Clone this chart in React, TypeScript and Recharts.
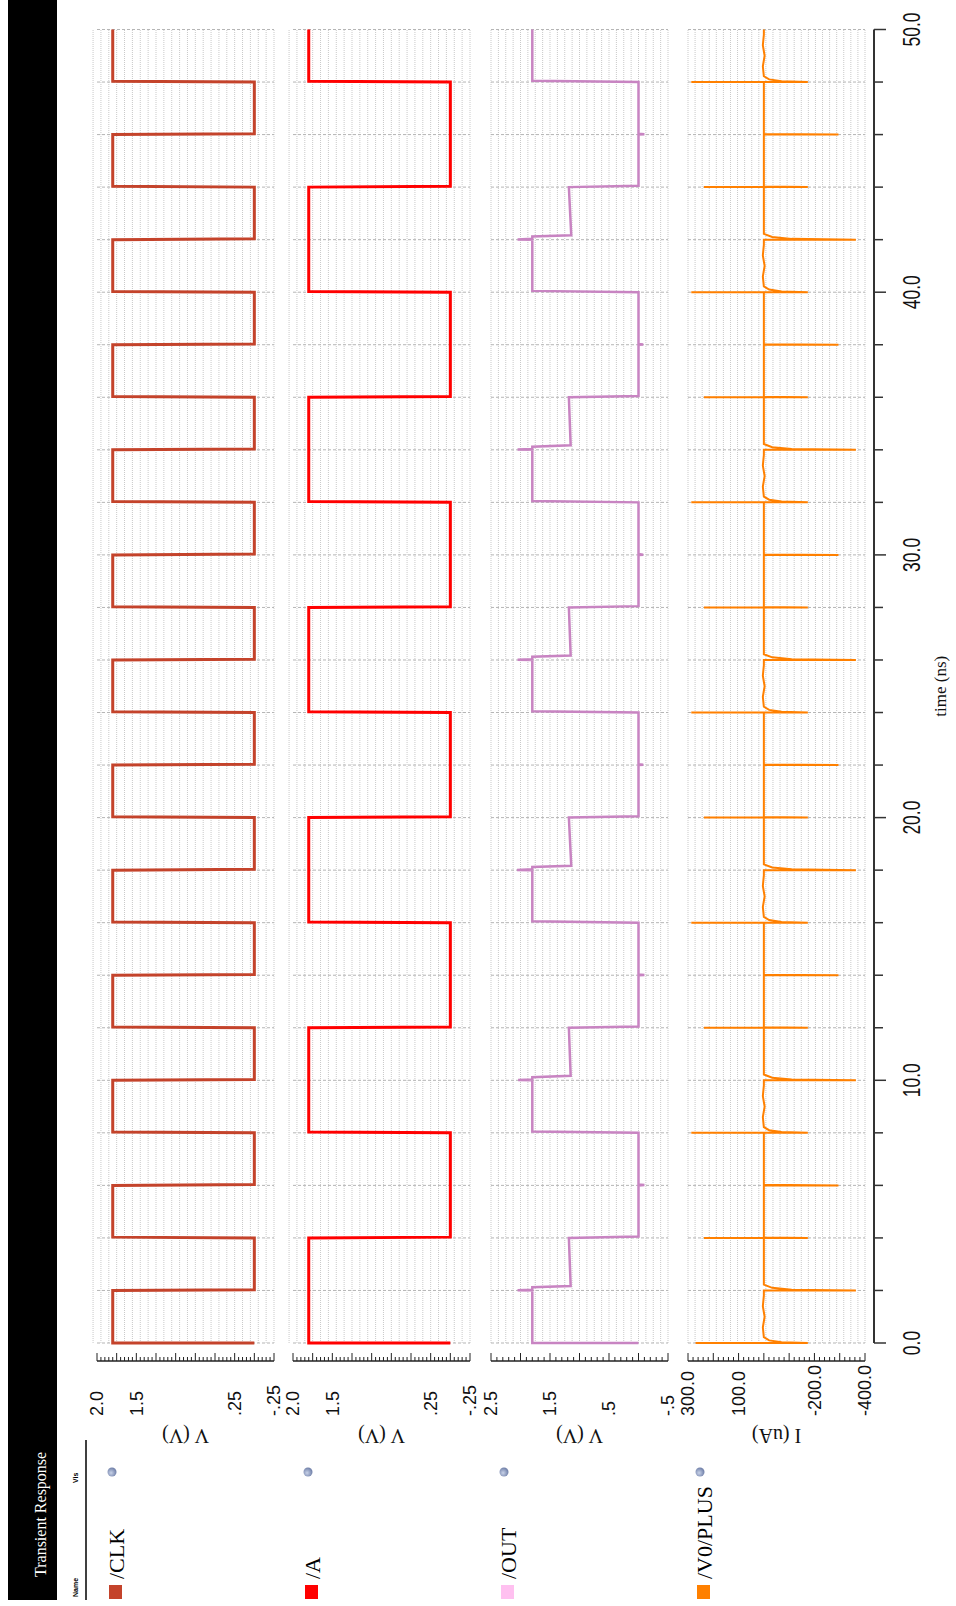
import React from 'react';
import { LineChart, Line, XAxis, YAxis, CartesianGrid } from 'recharts';

// the viewer is laid out landscape (W x H) and turned -90deg onto the portrait page
const W = 1606;
const H = 956;
const PLOT_LEFT = 263;
const PLOT_RIGHT = 1576.5;
const PLOT_H = 177;
const Y_AXIS_W = 100;
const PAD = 15;
const RULER_GAP = 18;
const X_AXIS_H = 85;

const SERIF = "'Liberation Serif', 'Times New Roman', serif";
const NARROW = "'Liberation Sans Narrow', 'Liberation Sans', Arial, sans-serif";

const range = (a: number, b: number, s: number) => {
  const n = Math.round((b - a) / s);
  return Array.from({ length: n + 1 }, (_, i) => +(a + i * s).toFixed(4));
};

// time axis (ns)
const timeTicks = [0, 2, 4, 6, 8, 10, 12, 14, 16, 18, 20, 22, 24, 26, 28, 30, 32, 34, 36, 38, 40, 42, 44, 46, 48, 50];
const timeLabels = [0, 10, 20, 30, 40, 50];

// /CLK : level held between consecutive edges
const clkEdges = [0, 2, 4, 6, 8, 10, 12, 14, 16, 18, 20, 22, 24, 26, 28, 30, 32, 34, 36, 38, 40, 42, 44, 46, 48, 50];
const clkLevels = [1.8, 0, 1.8, 0, 1.8, 0, 1.8, 0, 1.8, 0, 1.8, 0, 1.8, 0, 1.8, 0, 1.8, 0, 1.8, 0, 1.8, 0, 1.8, 0, 1.8];

// /A
const aEdges = [0, 4, 8, 12, 16, 20, 24, 28, 32, 36, 40, 44, 48, 50];
const aLevels = [1.8, 0, 1.8, 0, 1.8, 0, 1.8, 0, 1.8, 0, 1.8, 0, 1.8];

// /OUT : value at start and end of each segment
const outEdges = [0, 2, 4, 8, 10, 12, 16, 18, 20, 24, 26, 28, 32, 34, 36, 40, 42, 44, 48, 50];
const outStart = [1.8, 1.15, 0, 1.8, 1.15, 0, 1.8, 1.14, 0, 1.8, 1.15, 0, 1.8, 1.15, 0, 1.8, 1.14, 0, 1.8];
const outEnd = [1.8, 1.18, 0, 1.8, 1.18, 0, 1.8, 1.18, 0, 1.8, 1.18, 0, 1.8, 1.18, 0, 1.8, 1.18, 0, 1.8];
const outSpikeTimes = [2, 10, 18, 26, 34, 42];
const outSpikePeak = [2.05, 2.04, 2.06, 2.05, 2.05, 2.05];
const outDipTimes = [6, 14, 22, 30, 38, 46];
const outDipLow = [-0.1, -0.1, -0.08, -0.08, -0.08, -0.1];

// /V0/PLUS (uA) : spikes at every clock edge
const v0Times = [0, 2, 4, 6, 8, 10, 12, 14, 16, 18, 20, 22, 24, 26, 28, 30, 32, 34, 36, 38, 40, 42, 44, 46, 48];
const v0Peak = [270, 0, 237, 0, 287, 0, 237, 0, 287, 0, 237, 0, 287, 0, 237, 0, 287, 0, 237, 0, 287, 0, 237, 0, 287];
const v0Trough = [-174, -364, -174, -295, -174, -364, -174, -295, -174, -364, -174, -295, -174, -364, -174, -295, -174, -364, -174, -295, -174, -364, -174, -295, -174];
const v0Tail = [-70, -110, 0, 0, -70, -110, 0, 0, -70, -110, 0, 0, -70, -110, 0, 0, -70, -110, 0, 0, -70, -110, 0, 0, -70];
const v0TailT = [0.03, 0.1, 0.22];
const v0TailK = [1, 0.3, 0];
const v0WiggleT = [0.6, 1.0, 1.4, 1.8];
const v0WiggleV = [4, -3, 4, 0];

type Pt = { t: number; v: number };

function stepSeries(edges: number[], levels: number[]): Pt[] {
  const pts: Pt[] = [{ t: edges[0], v: 0 }];
  levels.forEach((lv, i) => {
    pts.push({ t: edges[i] + (i === 0 ? 0 : 0.03), v: lv });
    pts.push({ t: edges[i + 1], v: lv });
  });
  return pts;
}

function outSeries(): Pt[] {
  const pts: Pt[] = [{ t: 0, v: 0 }];
  outStart.forEach((v0, i) => {
    const t0 = outEdges[i];
    const t1 = outEdges[i + 1];
    const k = outSpikeTimes.indexOf(t0);
    if (k >= 0) {
      pts.push({ t: t0 + 0.01, v: outSpikePeak[k] });
      pts.push({ t: t0 + 0.03, v: outEnd[i - 1] });
      pts.push({ t: t0 + 0.12, v: outEnd[i - 1] });
      pts.push({ t: t0 + 0.17, v: v0 });
    } else {
      pts.push({ t: t0 + (i === 0 ? 0 : 0.05), v: v0 });
    }
    const d = outDipTimes.findIndex((x) => x > t0 && x < t1);
    if (d >= 0) {
      pts.push({ t: outDipTimes[d], v: v0 });
      pts.push({ t: outDipTimes[d] + 0.01, v: outDipLow[d] });
      pts.push({ t: outDipTimes[d] + 0.03, v: v0 });
    }
    pts.push({ t: t1, v: outEnd[i] });
  });
  return pts;
}

function v0Series(): Pt[] {
  const pts: Pt[] = [];
  v0Times.forEach((t, i) => {
    pts.push({ t, v: 0 });
    if (v0Peak[i] !== 0) pts.push({ t, v: v0Peak[i] });
    pts.push({ t, v: v0Trough[i] });
    if (v0Tail[i] !== 0) {
      v0TailT.forEach((dt, k) => pts.push({ t: t + dt, v: v0Tail[i] * v0TailK[k] }));
    } else {
      pts.push({ t: t + 0.02, v: 0 });
    }
    if (v0Peak[i] > 250) v0WiggleT.forEach((dt, k) => pts.push({ t: t + dt, v: v0WiggleV[k] }));
  });
  pts.push({ t: 50, v: 0 });
  return pts;
}

type PanelCfg = {
  name: string;
  color: string;
  swatch: string;
  width: number;
  data: Pt[];
  domain: [number, number];
  ticks: number[];
  majors: number[];
  labelVals: number[];
  labelText: string[];
  grid: number[];
  unit: string;
  top: number;
};

const panels: PanelCfg[] = [
  {
    name: '/CLK', color: '#c4432b', swatch: '#c4432b', width: 3, data: stepSeries(clkEdges, clkLevels),
    domain: [-0.25, 2], ticks: range(-0.25, 2, 0.05), majors: range(-0.25, 2, 0.25),
    labelVals: [2, 1.5, 0.25, -0.25], labelText: ['2.0', '1.5', '.25', '-.25'],
    grid: range(-0.25, 2, 0.1), unit: 'V (V)', top: 97,
  },
  {
    name: '/A', color: '#ff0000', swatch: '#ff0000', width: 3, data: stepSeries(aEdges, aLevels),
    domain: [-0.25, 2], ticks: range(-0.25, 2, 0.05), majors: range(-0.25, 2, 0.25),
    labelVals: [2, 1.5, 0.25, -0.25], labelText: ['2.0', '1.5', '.25', '-.25'],
    grid: range(-0.25, 2, 0.1), unit: 'V (V)', top: 293,
  },
  {
    name: '/OUT', color: '#c884c2', swatch: '#ffc0f0', width: 2.5, data: outSeries(),
    domain: [-0.5, 2.5], ticks: range(-0.5, 2.5, 0.1), majors: range(-0.5, 2.5, 0.5),
    labelVals: [2.5, 1.5, 0.5, -0.5], labelText: ['2.5', '1.5', '.5', '-.5'],
    grid: range(-0.5, 2.5, 0.125), unit: 'V (V)', top: 491,
  },
  {
    name: '/V0/PLUS', color: '#ff8000', swatch: '#ff8000', width: 2, data: v0Series(),
    domain: [-400, 300], ticks: range(-400, 300, 20), majors: range(-400, 300, 100),
    labelVals: [300, 100, -200, -400], labelText: ['300.0', '100.0', '-200.0', '-400.0'],
    grid: range(-400, 300, 28), unit: 'I (uA)', top: 688,
  },
];

const makeYTick = (p: PanelCfg) => (props: any) => {
  const { x, y, payload } = props;
  const v = payload.value as number;
  const ax = x - RULER_GAP;
  const near = (arr: number[]) => arr.findIndex((m) => Math.abs(m - v) < 1e-6);
  const major = near(p.majors) >= 0;
  const li = near(p.labelVals);
  return (
    <g>
      <line x1={ax} x2={ax + (major ? 8 : 4)} y1={y} y2={y} stroke="#222" strokeWidth={1} />
      {li >= 0 && (
        <text x={ax - 55} y={y} dy="0.36em" fontSize={18} fontFamily={NARROW} fill="#111">
          {p.labelText[li]}
        </text>
      )}
    </g>
  );
};

const timeTick = (props: any) => {
  const { x, y, payload } = props;
  const v = payload.value as number;
  const ay = y + 9;
  const major = timeLabels.includes(v);
  return (
    <g>
      <line x1={x} x2={x} y1={ay} y2={ay + (major ? 12 : 9)} stroke="#333" strokeWidth={1.5} />
      {major && (
        <text transform={`translate(${x},${ay + 46}) scale(0.76,1)`} textAnchor="middle" fontSize={23} fontFamily={NARROW} fill="#111">
          {v.toFixed(1)}
        </text>
      )}
    </g>
  );
};

function Panel({ p, last }: { p: PanelCfg; last: boolean }) {
  const h = PLOT_H + PAD + (last ? X_AXIS_H : PAD);
  return (
    <div style={{ position: 'absolute', left: 0, top: p.top - PAD }}>
      <LineChart
        width={W}
        height={h}
        data={p.data}
        margin={{ top: PAD, right: W - PLOT_RIGHT, bottom: last ? 0 : PAD, left: PLOT_LEFT - Y_AXIS_W }}
      >
        <CartesianGrid vertical={false} horizontalValues={p.grid} stroke="#c9c9c9" strokeDasharray="1 1" />
        <CartesianGrid horizontal={false} verticalValues={timeTicks} stroke="#b5b5b5" strokeDasharray="3 2" />
        <XAxis
          type="number"
          dataKey="t"
          domain={[0, 50]}
          ticks={timeTicks}
          interval={0}
          hide={!last}
          height={last ? X_AXIS_H : 0}
          tickSize={0}
          tickMargin={0}
          tickLine={false}
          axisLine={{ stroke: '#333', strokeWidth: 2, transform: 'translate(0,9)' }}
          tick={timeTick}
          label={{ value: 'time (ns)', position: 'insideBottom', offset: 4, style: { fontFamily: SERIF, fontSize: 17, fill: '#111' } }}
        />
        <YAxis
          type="number"
          domain={p.domain}
          ticks={p.ticks}
          interval={0}
          allowDataOverflow
          width={Y_AXIS_W}
          tickSize={0}
          tickMargin={0}
          tickLine={false}
          axisLine={{ stroke: '#222', strokeWidth: 1.5, transform: `translate(${-RULER_GAP},0)` }}
          tick={makeYTick(p)}
          label={{ value: p.unit, angle: -90, position: 'insideLeft', offset: 7, style: { textAnchor: 'middle', fontFamily: SERIF, fontSize: 20, fill: '#111' } }}
        />
        <Line
          type="linear"
          dataKey="v"
          stroke={p.color}
          strokeWidth={p.width}
          dot={false}
          activeDot={false}
          isAnimationActive={false}
        />
      </LineChart>
    </div>
  );
}

function Frame() {
  return (
    <svg width={W} height={H} style={{ position: 'absolute', left: 0, top: 0 }}>
      <defs>
        <radialGradient id="visDot" cx="40%" cy="40%" r="60%">
          <stop offset="0%" stopColor="#c8d2e8" />
          <stop offset="100%" stopColor="#6f7fa8" />
        </radialGradient>
      </defs>
      <rect x={6} y={8} width={W - 6} height={49} fill="#000" />
      <text x={29} y={46} fill="#fff" fontSize={16} fontFamily={SERIF}>Transient Response</text>
      <text x={9} y={78} fontSize={7} fontWeight="bold" fontFamily="Arial, sans-serif">Name</text>
      <text x={123} y={78} fontSize={7} fontWeight="bold" fontFamily="Arial, sans-serif">Vis</text>
      <line x1={6} x2={166} y1={86} y2={86} stroke="#000" strokeWidth={1.5} />
      {panels.map((p, i) => (
        <g key={p.name}>
          <rect x={7} y={109 + 196 * i} width={14} height={13} fill={p.swatch} />
          <text x={27} y={124 + 196 * i} fontSize={22} fontFamily={SERIF} fill="#000">{p.name}</text>
          <circle cx={134} cy={112 + 196 * i} r={4.5} fill="url(#visDot)" />
        </g>
      ))}
    </svg>
  );
}

export default function App() {
  return (
    <div style={{ position: 'absolute', left: 0, top: 0, width: H, height: W, overflow: 'hidden', background: '#fff' }}>
      <div
        style={{
          position: 'absolute',
          left: 0,
          top: 0,
          width: W,
          height: H,
          transform: `translate(0px, ${W}px) rotate(-90deg)`,
          transformOrigin: '0 0',
          fontFamily: SERIF,
        }}
      >
        <Frame />
        {panels.map((p, i) => (
          <Panel key={p.name} p={p} last={i === panels.length - 1} />
        ))}
      </div>
    </div>
  );
}
